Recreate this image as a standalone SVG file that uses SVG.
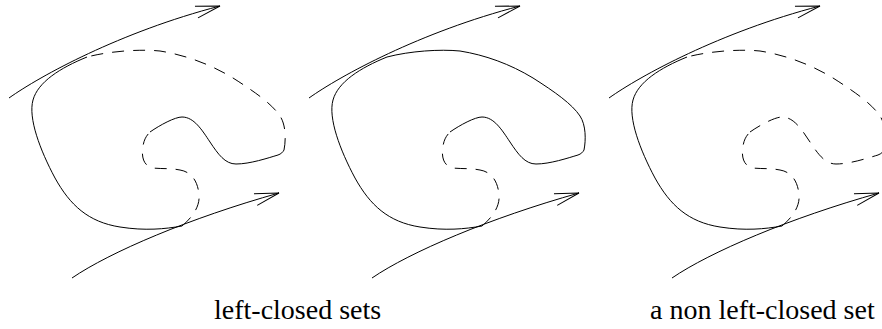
<svg xmlns="http://www.w3.org/2000/svg" width="882" height="329" viewBox="0 0 882 329">
  <style>
    .sol { fill: none; stroke: #000; stroke-width: 1; }
    .dsh { fill: none; stroke: #000; stroke-width: 1; stroke-dasharray: 12 9; }
    .arr { fill: none; stroke: #000; stroke-width: 1; marker-end: url(#ah); }
    .lbl { font-family: 'Liberation Serif', 'DejaVu Serif', serif; font-size: 28px; fill: #000; }
  </style>
  <defs>
    <marker id="ah" markerUnits="userSpaceOnUse" orient="auto" markerWidth="30" markerHeight="16" refX="0" refY="0" viewBox="-28 -8 30 16" overflow="visible">
      <path d="M-24.3,-6 L0,0 L-24.3,6" fill="none" stroke="#000" stroke-width="1"/>
    </marker>
    <path id="arTop" d="M9,98 C40,76 120,32 220,6"/>
    <path id="arBot" d="M72,278 C110,252 190,218 279,193"/>
    <path id="s1" d="M87,57 C60,68 38,82 33,100 C28,118 40,150 55,178 C70,205 88,222 120,227 C145,231 165,229 182,226"/>
    <path id="s2" d="M182,226 C194,216 200,205 199,195 C198,182 192,172 180,170 C170,168 162,169 153,168 C144,166 141,158 143,146 C144,140 146,136 150,132"/>
    <path id="s3" d="M150,132 C160,125 175,117 182,117 C194,117 202,130 210,142 C218,154 225,164 236,164 C250,164 268,158 278,155 C281,154 283,152 284,150"/>
    <path id="s4" d="M284,150 C286,140 286,125 280,116 C272,104 255,92 233,78 C210,64 185,55 160,51 C140,49 110,51 87,57"/>
  </defs>

  <g id="connectors">
    <use href="#arTop" class="arr"/>
    <use href="#arBot" class="arr"/>
    <use href="#arTop" class="arr" transform="translate(300,0)"/>
    <use href="#arBot" class="arr" transform="translate(300,0)"/>
    <use href="#arTop" class="arr" transform="translate(600,0)"/>
    <use href="#arBot" class="arr" transform="translate(600,0)"/>
  </g>

  <g id="set1">
    <use href="#s1" class="sol"/>
    <use href="#s2" class="dsh"/>
    <use href="#s3" class="sol"/>
    <use href="#s4" class="dsh"/>
  </g>

  <g id="set2" transform="translate(300,0)">
    <use href="#s1" class="sol"/>
    <use href="#s2" class="dsh"/>
    <use href="#s3" class="sol"/>
    <use href="#s4" class="sol"/>
  </g>

  <g id="set3" transform="translate(600,0)">
    <use href="#s1" class="sol"/>
    <use href="#s2" class="dsh"/>
    <use href="#s3" class="dsh"/>
    <use href="#s4" class="dsh"/>
  </g>

  <g id="labels">
    <text class="lbl" x="214" y="319" font-family="Liberation Serif, serif">left-closed sets</text>
    <text class="lbl" x="650" y="319" font-family="Liberation Serif, serif">a non left-closed set</text>
  </g>
</svg>
